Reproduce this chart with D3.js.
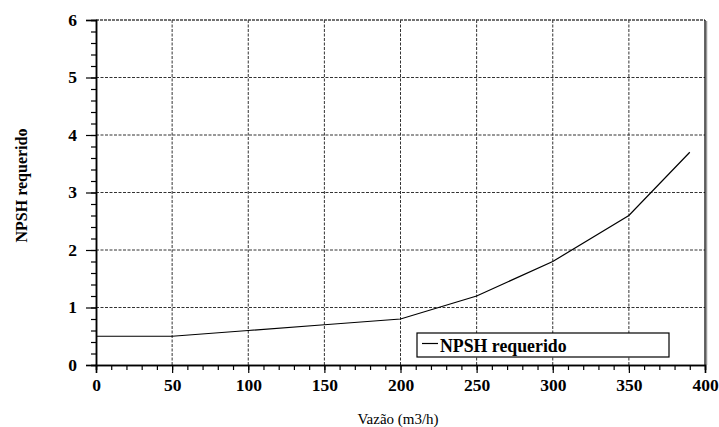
<!DOCTYPE html>
<html>
<head>
<meta charset="utf-8">
<script src="https://cdn.jsdelivr.net/npm/d3@7"></script>
<style>
  body { margin: 0; background: #fff; }
  svg { display: block; }
</style>
</head>
<body>
<svg id="chart"></svg>
<script>
// data
const vazao = [0, 50, 100, 150, 200, 250, 300, 350, 390];
const npsh = [0.5, 0.5, 0.6, 0.7, 0.8, 1.2, 1.8, 2.6, 3.7];
const xTicks = [0, 50, 100, 150, 200, 250, 300, 350, 400];
const yTicks = [0, 1, 2, 3, 4, 5, 6];
const seriesName = 'NPSH requerido';

const width = 719;
const height = 427;
const margin = { top: 20, right: 14, bottom: 62, left: 96 };
const font = 'Liberation Serif';

const svg = d3.select('#chart').attr('width', width).attr('height', height);

const x = d3.scaleLinear().domain([0, 400]).range([margin.left, width - margin.right]);
const y = d3.scaleLinear().domain([0, 6]).range([height - margin.bottom, margin.top]);

// grid lines (dashed)
svg.append('g')
  .selectAll('line')
  .data(xTicks.slice(1, -1))
  .join('line')
  .attr('x1', (d) => x(d)).attr('x2', (d) => x(d))
  .attr('y1', y(6)).attr('y2', y(0))
  .attr('stroke', '#333').attr('stroke-width', 1)
  .attr('stroke-dasharray', '3,1.5');

svg.append('g')
  .selectAll('line')
  .data(yTicks.slice(1, -1))
  .join('line')
  .attr('x1', x(0)).attr('x2', x(400))
  .attr('y1', (d) => y(d)).attr('y2', (d) => y(d))
  .attr('stroke', '#333').attr('stroke-width', 1)
  .attr('stroke-dasharray', '3,1.5');

// frame
svg.append('line')
  .attr('x1', x(0)).attr('x2', x(400)).attr('y1', y(6)).attr('y2', y(6))
  .attr('stroke', '#444').attr('stroke-width', 1.5).attr('stroke-dasharray', '3,1');
svg.append('line')
  .attr('x1', x(400) + 1.5).attr('x2', x(400) + 1.5).attr('y1', y(6) + 1).attr('y2', y(0))
  .attr('stroke', '#999').attr('stroke-width', 1.5);
svg.append('line')
  .attr('x1', x(400)).attr('x2', x(400)).attr('y1', y(6)).attr('y2', y(0))
  .attr('stroke', '#000').attr('stroke-width', 1.2);

// axes
const xAxisMinor = d3.axisBottom(x).ticks(40).tickSize(5).tickFormat('');
const xAxis = d3.axisBottom(x).tickValues(xTicks).tickSize(8).tickPadding(6).tickFormat(d3.format('d'));
const yAxisMinor = d3.axisLeft(y).ticks(30).tickSize(5).tickFormat('');
const yAxis = d3.axisLeft(y).tickValues(yTicks).tickSize(10).tickPadding(9).tickFormat(d3.format('d'));

function styleAxis(g) {
  g.attr('font-family', null).attr('font-size', null);
  g.select('.domain').attr('stroke', '#000').attr('stroke-width', 1.5);
  g.selectAll('.tick line').attr('stroke', '#000').attr('stroke-width', 1.2);
  g.selectAll('text')
    .style('font-family', font)
    .style('font-size', '17.5px')
    .style('font-weight', 'bold')
    .attr('fill', '#000');
}

svg.append('g').attr('transform', `translate(0,${y(0)})`).call(xAxisMinor).call(styleAxis);
svg.append('g').attr('transform', `translate(0,${y(0)})`).call(xAxis).call(styleAxis);
svg.append('g').attr('transform', `translate(${x(0)},0)`).call(yAxisMinor).call(styleAxis);
svg.append('g').attr('transform', `translate(${x(0)},0)`).call(yAxis).call(styleAxis)
  .selectAll('text').attr('dy', '0.3em');

// series
const line = d3.line().x((d, i) => x(vazao[i])).y((d) => y(d));
svg.append('path')
  .datum(npsh)
  .attr('fill', 'none')
  .attr('stroke', '#000')
  .attr('stroke-width', 1.2)
  .attr('d', line);

// legend
const lx = 417, ly = 333;
svg.append('rect')
  .attr('x', lx).attr('y', ly).attr('width', 252).attr('height', 24)
  .attr('fill', '#fff').attr('stroke', '#000').attr('stroke-width', 1.2);
svg.append('line')
  .attr('x1', lx + 5).attr('x2', lx + 21).attr('y1', ly + 10.5).attr('y2', ly + 10.5)
  .attr('stroke', '#000').attr('stroke-width', 1.2);
svg.append('text')
  .attr('x', lx + 23).attr('y', ly + 18.5)
  .style('font-family', font).style('font-size', '17.8px').style('font-weight', 'bold')
  .text(seriesName);

// axis titles
svg.append('text')
  .attr('x', 398).attr('y', 424)
  .attr('text-anchor', 'middle')
  .style('font-family', font).style('font-size', '15px')
  .text('Vazão (m3/h)');

svg.append('text')
  .attr('transform', 'translate(27,185.5) rotate(-90)')
  .attr('text-anchor', 'middle')
  .style('font-family', font).style('font-size', '16px').style('font-weight', 'bold')
  .text('NPSH requerido');
</script>
</body>
</html>
